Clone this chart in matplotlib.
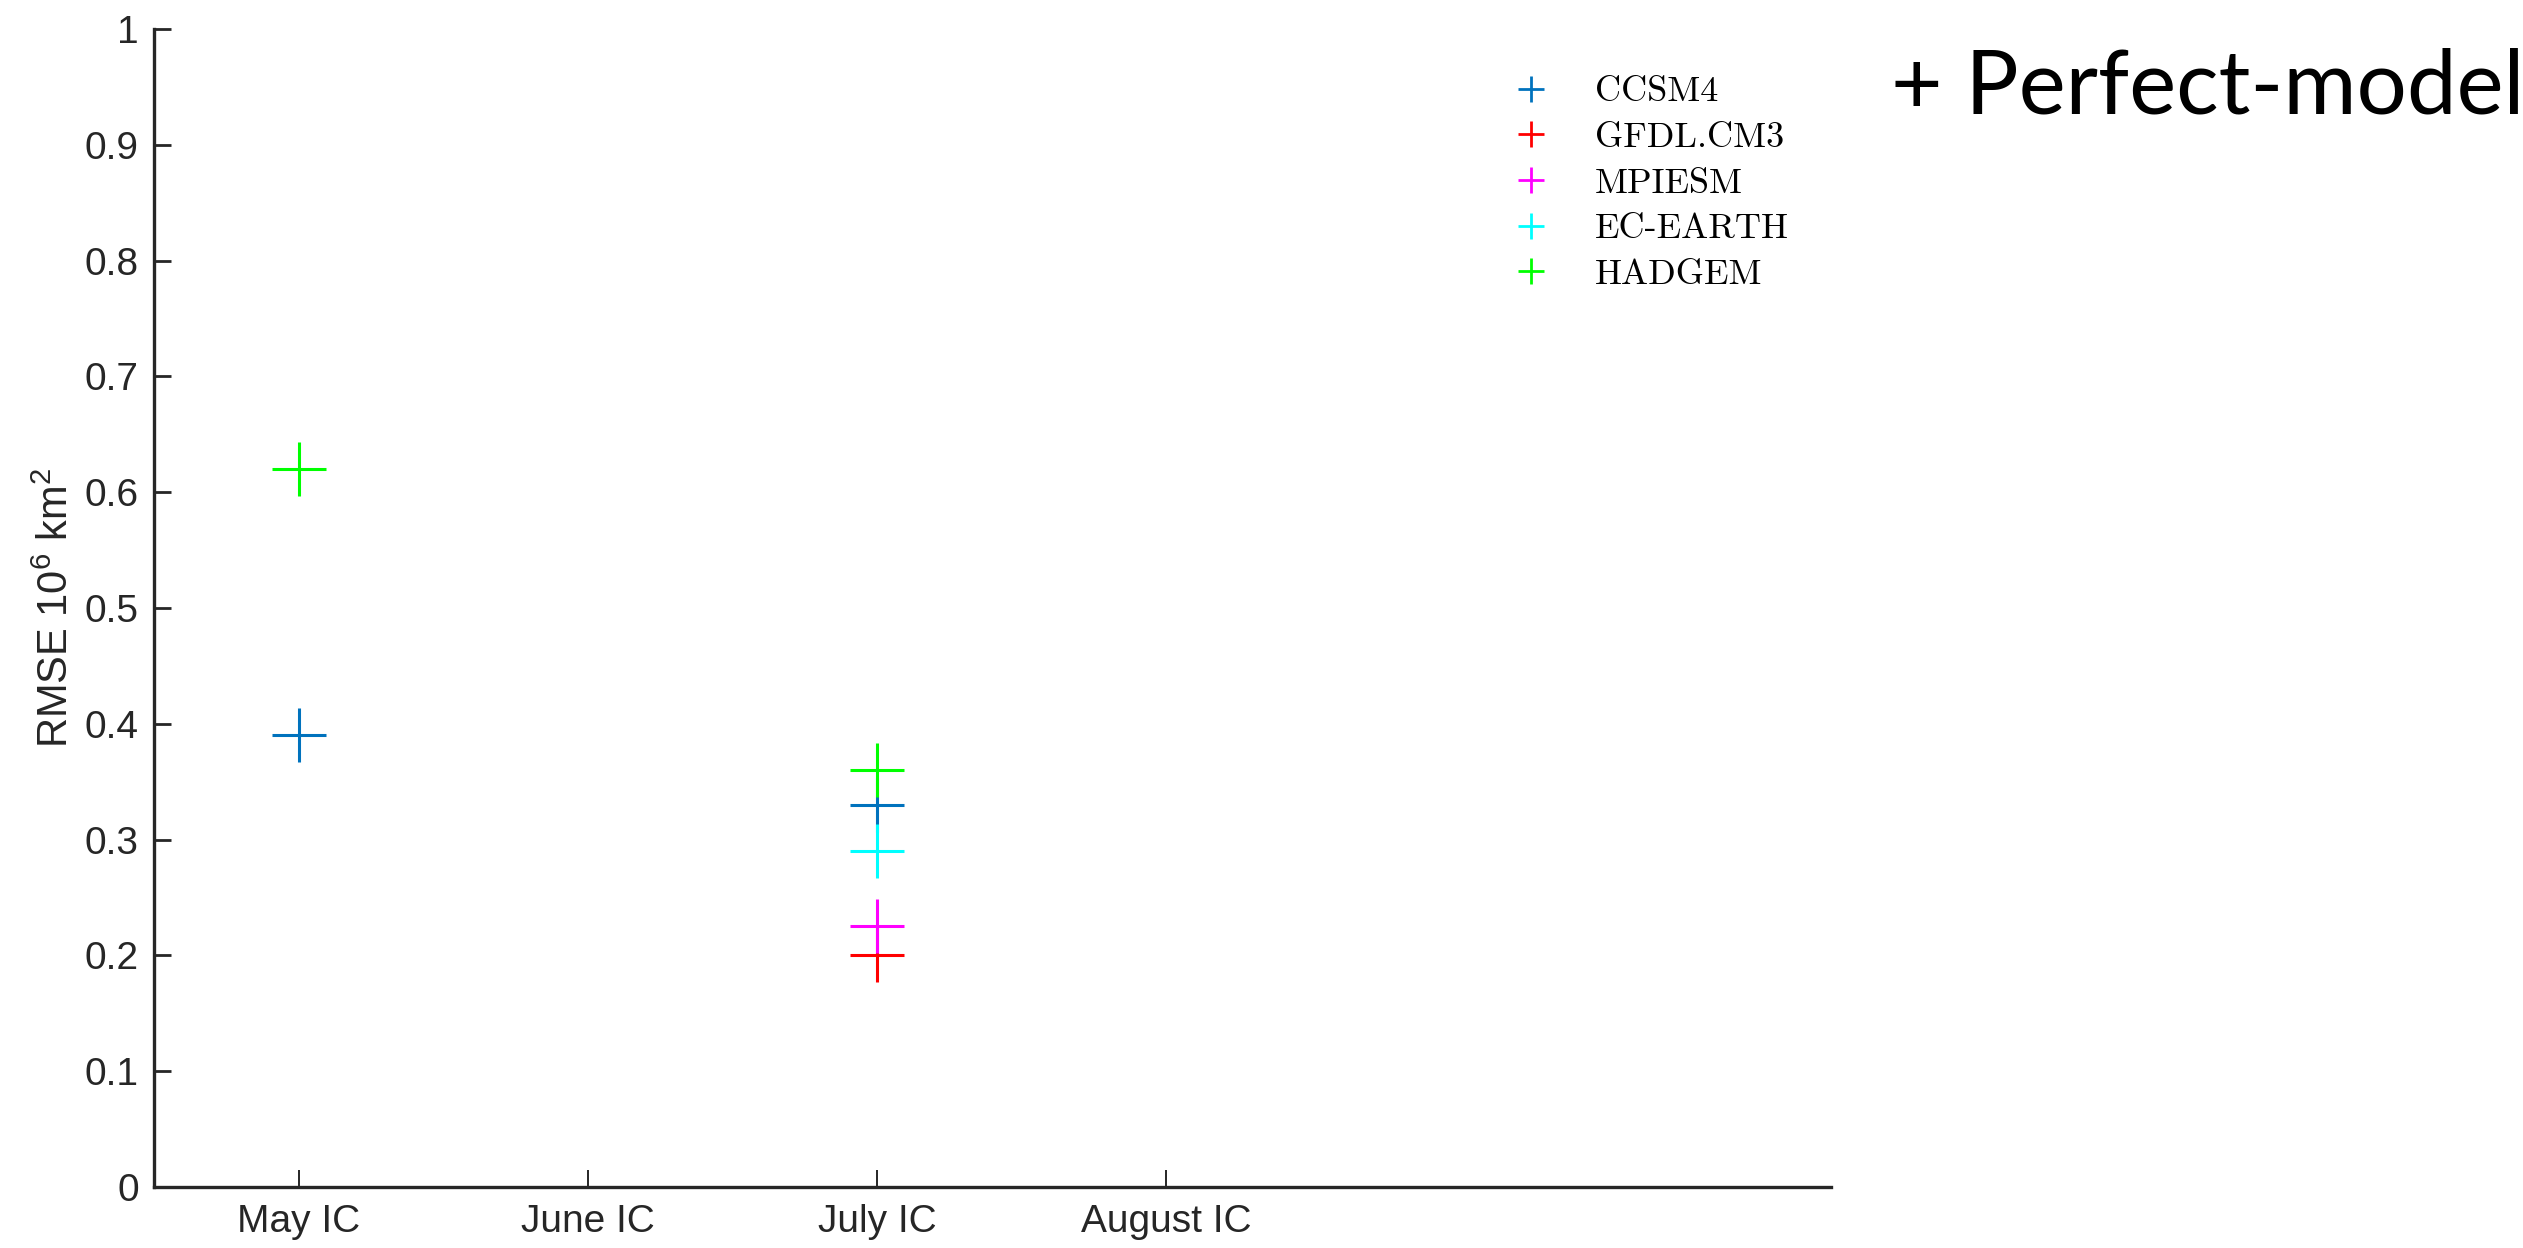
import numpy as np
import matplotlib
matplotlib.use('Agg')
import matplotlib.pyplot as plt
from matplotlib.font_manager import FontProperties

# ---- data ----
months = ['May IC', 'June IC', 'July IC', 'August IC']
models = ['CCSM4', 'GFDL.CM3', 'MPIESM', 'EC-EARTH', 'HADGEM']
nan = np.nan
ccsm4 = [0.39, nan, 0.33, nan]
gfdl_cm3 = [nan, nan, 0.20, nan]
mpiesm = [nan, nan, 0.225, nan]
ec_earth = [nan, nan, 0.29, nan]
hadgem = [0.62, nan, 0.36, nan]
series = [ccsm4, gfdl_cm3, mpiesm, ec_earth, hadgem]
colors = ['#0072BD', '#FF0000', '#FF00FF', '#00FFFF', '#00FF00']
yticks = [0, 0.1, 0.2, 0.3, 0.4, 0.5, 0.6, 0.7, 0.8, 0.9, 1.0]

plt.rcParams['font.family'] = ['Liberation Sans', 'DejaVu Sans']
plt.rcParams['mathtext.fontset'] = 'custom'
plt.rcParams['mathtext.rm'] = 'Liberation Sans'
plt.rcParams['mathtext.it'] = 'Liberation Sans:italic'
plt.rcParams['mathtext.default'] = 'regular'

W, H = 2523, 1248
fig = plt.figure(figsize=(W / 100, H / 100), dpi=100)
ax = fig.add_axes([154 / W, 1 - 1187 / H, (1831 - 154) / W, (1187 - 29) / H])

x = np.arange(1, len(months) + 1)
handles = []
for vals, c, name in zip(series, colors, models):
    ax.plot(x, vals, linestyle='none', marker='+', markersize=39,
            markeredgewidth=2.2, color=c)
    h, = ax.plot([], [], linestyle='none', marker='+', markersize=19,
                 markeredgewidth=2.0, color=c, label=name)
    handles.append(h)

ax.set_xlim(0.5, 6.3)
ax.set_ylim(0, 1)
ax.set_xticks(x)
ax.set_xticklabels(months)
ax.set_yticks(yticks)
ax.set_yticklabels(['%g' % v for v in yticks])

spine_c = '#262626'
for s in ['top', 'right']:
    ax.spines[s].set_visible(False)
for s in ['left', 'bottom']:
    ax.spines[s].set_color(spine_c)
    ax.spines[s].set_linewidth(2.4)

ax.tick_params(axis='y', direction='in', length=12, width=2.0, color=spine_c,
               labelsize=28, labelcolor=spine_c, pad=11)
ax.tick_params(axis='x', direction='in', length=12, width=1.4, color=spine_c,
               labelsize=28, labelcolor=spine_c, pad=12)

ax.set_ylabel('RMSE 10$^6$ km$^2$', fontsize=30, color=spine_c)
ax.yaxis.set_label_coords(-0.046, 0.5)

leg = fig.legend(handles=handles, loc='upper left',
                 bbox_to_anchor=(1507 / W, 1 - 76 / H),
                 frameon=False, borderpad=0, borderaxespad=0,
                 handlelength=1.33, handletextpad=1.1, labelspacing=0.37,
                 prop=FontProperties(family='cmr10', size=26))

fig.text(1891 / W, 1 - 114 / H, '+ Perfect-model', fontsize=64,
         family=['Lato', 'DejaVu Sans'], ha='left', va='baseline', color='black')

fig.savefig('out.png', dpi=100)
